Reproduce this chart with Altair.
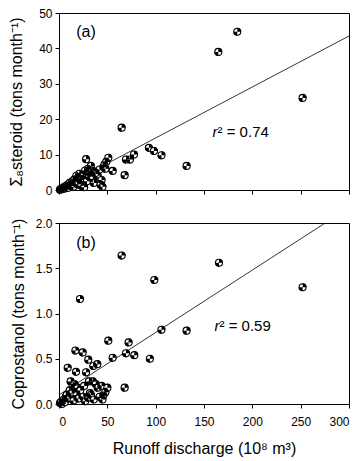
import altair as alt
import pandas as pd

# Panel (a): sum of 8 steroids vs runoff
a_x = [1, 2, 3, 4, 5, 6, 7, 8, 9, 10, 11, 12, 13, 14, 15, 16, 17, 18, 19, 20,
       21, 22, 23, 24, 25, 26, 27, 28, 29, 30, 31, 32, 33, 34, 35, 36, 37, 38,
       40, 42, 44, 43, 45, 46, 47, 48, 49, 51, 55.5, 67.9, 69.3, 73.4, 77.6,
       93, 98.2, 106, 132, 64.8, 164.8, 184.4, 252]
a_y = [0.1, 0.3, 0.2, 0.5, 0.8, 0.4, 1.0, 1.3, 0.6, 1.5, 2.0, 1.1, 1.8, 2.5,
       0.9, 3.0, 2.2, 4.0, 1.6, 3.6, 4.6, 2.8, 1.2, 3.3, 4.2, 0.8, 5.5, 8.7,
       2.5, 6.0, 3.8, 4.8, 6.8, 5.5, 3.2, 2.0, 5.2, 4.5, 4.0, 5.8, 2.8, 1.5,
       0.9, 6.5, 7.2, 6.0, 8.0, 9.1, 5.4, 4.2, 8.6, 8.6, 10.0, 11.9, 11.0, 9.8,
       6.8, 17.6, 39.0, 44.7, 26.0]

# Panel (b): coprostanol vs runoff
b_x = [1, 2, 3, 4, 5, 6, 7, 8, 9, 10, 11, 12, 13, 14, 15, 16, 17, 17.6, 18,
       19, 20, 21.7, 22, 24.5, 25, 26, 27, 28, 30.3, 30, 31, 32, 33, 35, 35.5,
       36, 38, 39.6, 40, 42, 44, 45, 46, 48, 50, 51, 55.5, 64.8, 67.9, 69.3,
       72, 77.9, 94, 98.6, 106, 132, 165.5, 252]
b_y = [0.01, 0.02, 0.0, 0.03, 0.05, 0.02, 0.08, 0.1, 0.4, 0.06, 0.15, 0.25,
       0.12, 0.2, 0.04, 0.22, 0.59, 0.355, 0.1, 0.18, 0.06, 1.16, 0.15, 0.57,
       0.08, 0.2, 0.03, 0.35, 0.49, 0.07, 0.25, 0.12, 0.1, 0.25, 0.42, 0.05,
       0.22, 0.44, 0.18, 0.08, 0.2, 0.05, 0.1, 0.13, 0.18, 0.70, 0.51, 1.64,
       0.18, 0.56, 0.68, 0.54, 0.50, 1.37, 0.82, 0.81, 1.56, 1.29]

x_ticks = [0, 50, 100, 150, 200, 250, 300]
a_ticks = [0, 10, 20, 30, 40, 50]
b_ticks = [0.0, 0.5, 1.0, 1.5, 2.0]
a_fit = (0.3, 0.144)      # intercept, slope
b_fit = (0.1, 0.0069)
fit_x = [0, 300]

FONT = "Liberation Sans"
QUAD = "M0,0L0,-1A1,1,0,0,1,1,0Z M0,0L0,1A1,1,0,0,1,-1,0Z"


def panel(xs, ys, fit, yticks, ydom, ytitle, yfmt, bottom, label, label_pos, r2val, r2_pos,
          tpad, h):
    df = pd.DataFrame({"x": xs, "y": ys})
    xscale = alt.Scale(domain=[0, 300], nice=False, zero=False)
    yscale = alt.Scale(domain=ydom, nice=False, zero=False)
    if bottom:
        xaxis = alt.Axis(values=x_ticks, grid=False, title="Runoff discharge (10⁸ m³)",
                         titlePadding=13, labelPadding=8, labelOverlap=False)
    else:
        xaxis = alt.Axis(values=x_ticks, grid=False, labels=False, title="")
    yaxis = alt.Axis(values=yticks, grid=False, format=yfmt, title=ytitle, titlePadding=tpad,
                     labelOverlap=False, labelPadding=3)
    X = alt.X("x:Q", scale=xscale, axis=xaxis)
    Y = alt.Y("y:Q", scale=yscale, axis=yaxis)

    fdf = pd.DataFrame({"x": fit_x, "y": [fit[0] + fit[1] * v for v in fit_x]})
    line = alt.Chart(fdf).mark_line(color="black", strokeWidth=0.8, clip=True).encode(x=X, y=Y)
    base = alt.Chart(df).mark_point(shape="circle", filled=True, fill="white", stroke="black",
                                    strokeWidth=1.1, size=50, opacity=1).encode(x=X, y=Y)
    quad = alt.Chart(df).mark_point(shape=QUAD, filled=True, color="black", size=62,
                                    opacity=1).encode(x=X, y=Y)
    ldf = pd.DataFrame({"x": [label_pos[0]], "y": [label_pos[1]], "t": [label]})
    lab = alt.Chart(ldf).mark_text(font=FONT, fontSize=16, color="black").encode(
        x=X, y=Y, text="t:N")
    rdf = pd.DataFrame({"x": [r2_pos[0]], "y": [r2_pos[1]], "t": [f"² = {r2val}"], "r": ["r"]})
    rr = alt.Chart(rdf).mark_text(font=FONT, fontSize=15, fontStyle="italic", align="right",
                                  color="black").encode(x=X, y=Y, text="r:N")
    rt = alt.Chart(rdf).mark_text(font=FONT, fontSize=15, align="left", color="black").encode(
        x=X, y=Y, text="t:N")
    return alt.layer(line, base, quad, lab, rr, rt).properties(width=290, height=h)


top = panel(a_x, a_y, a_fit, a_ticks, [0, 50], "Σ₈steroid (tons month⁻¹)", "d", False,
            "(a)", (28, 44.5), "0.74", (164, 16.3), 14, 177)
bot = panel(b_x, b_y, b_fit, b_ticks, [0, 2], "Coprostanol (tons month⁻¹)", ".1f", True,
            "(b)", (28, 1.78), "0.59", (166, 0.86), 9, 181)

chart = alt.vconcat(top, bot, spacing=19).properties(
    padding={"left": 0, "top": -2, "right": 0, "bottom": 0}
).configure_view(
    stroke="black", strokeWidth=1
).configure_axis(
    domainColor="black", tickColor="black", labelColor="black", titleColor="black",
    labelFont=FONT, titleFont=FONT, labelFontSize=12, titleFontSize=16,
    titleFontWeight="normal", tickSize=4, domainWidth=1, tickWidth=1
)

chart.save("out.html", embed_options={"renderer": "svg", "actions": False})
